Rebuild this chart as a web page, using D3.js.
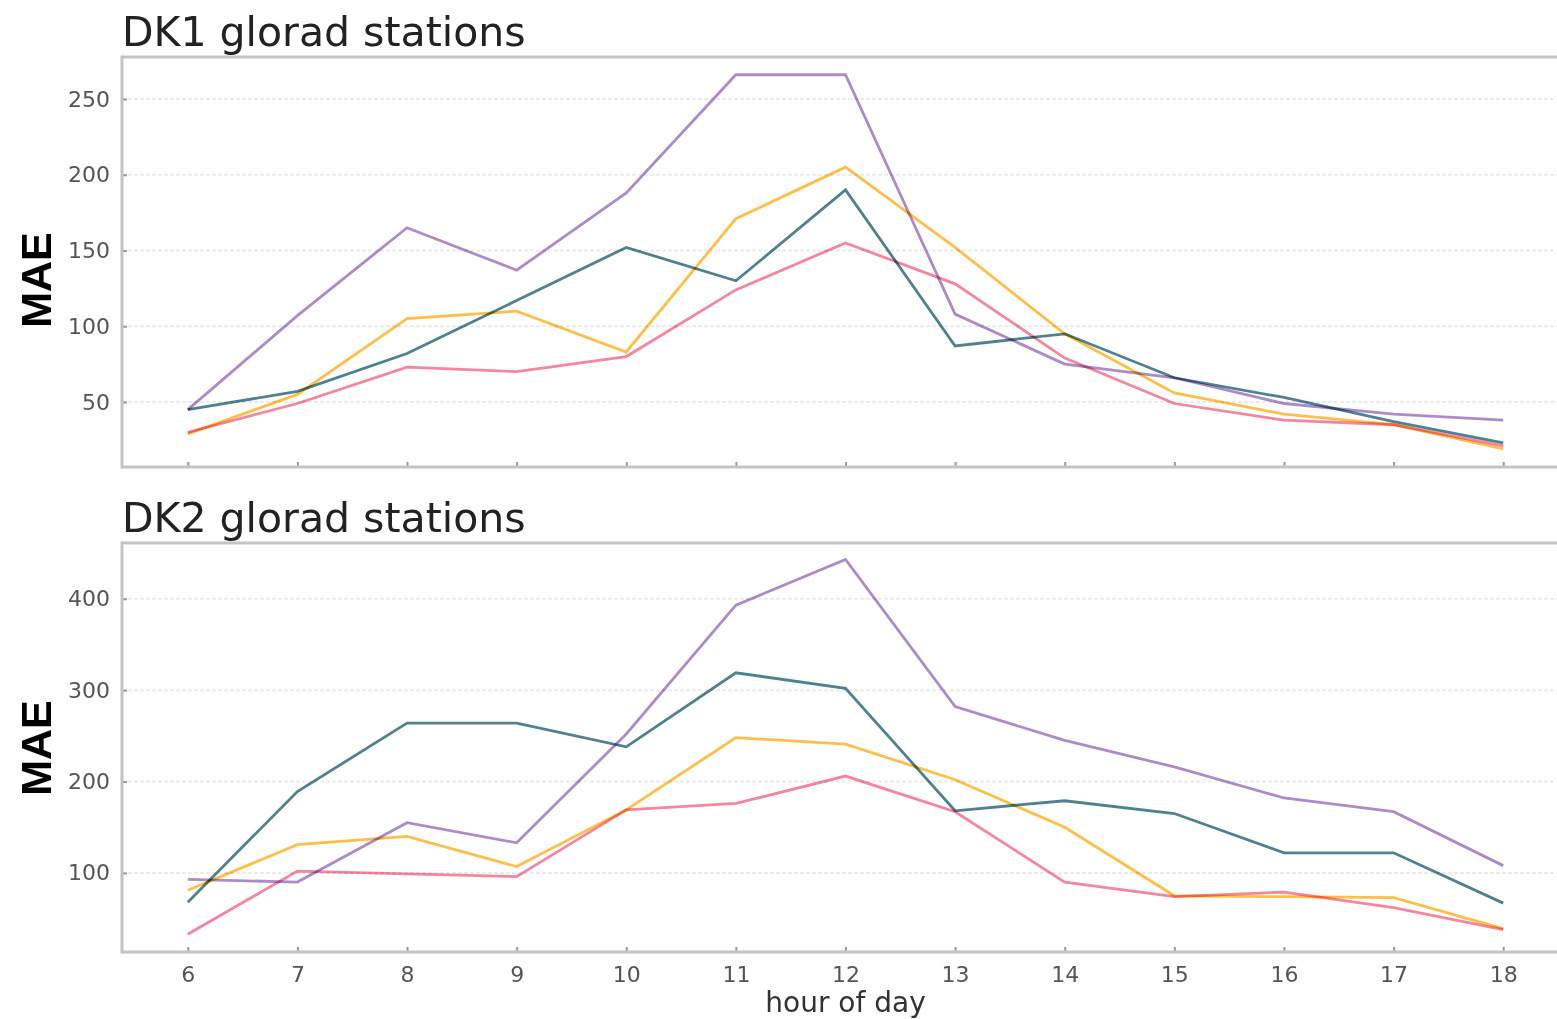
<!DOCTYPE html>
<html>
<head>
<meta charset="utf-8">
<script src="https://d3js.org/d3.v7.min.js"></script>
<style>
  html, body { margin: 0; padding: 0; background: #fff; }
  svg { display: block; }
</style>
</head>
<body>
<svg id="chart" width="1557" height="1019"></svg>
<script>
// ---- data ----
const hours = [6, 7, 8, 9, 10, 11, 12, 13, 14, 15, 16, 17, 18];
const seriesNames = ["teal", "purple", "yellow", "pink"];
const seriesColors = ["#4f8191", "#ad8bc9", "#ffbf4a", "#f5869f"];

const dk1Teal   = [45, 57, 82, 117, 152, 130, 190, 87, 95, 66, 53, 37, 23];
const dk1Purple = [45, 107, 165, 137, 188, 266, 266, 108, 75, 66, 49, 42, 38];
const dk1Yellow = [29, 55, 105, 110, 83, 171, 205, 152, 95, 56, 42, 35, 19];
const dk1Pink   = [30, 49, 73, 70, 80, 124, 155, 128, 79, 49, 38, 35, 21];

const dk2Teal   = [68, 189, 264, 264, 238, 319, 302, 168, 179, 165, 122, 122, 67];
const dk2Purple = [93, 90, 155, 133, 252, 393, 443, 282, 245, 216, 182, 167, 108];
const dk2Yellow = [81, 131, 140, 107, 169, 248, 241, 202, 150, 75, 74, 73, 39];
const dk2Pink   = [33, 102, 99, 96, 169, 176, 206, 167, 90, 74, 79, 62, 38];

const dk1Ticks = [50, 100, 150, 200, 250];
const dk2Ticks = [100, 200, 300, 400];
const xTicks = hours;

const panels = [
  { title: "DK1 glorad stations", series: [dk1Teal, dk1Purple, dk1Yellow, dk1Pink],
    yDomain: [7.1, 277.7], yTicks: dk1Ticks, top: 57, bottom: 467, showX: false, labelY: 280 },
  { title: "DK2 glorad stations", series: [dk2Teal, dk2Purple, dk2Yellow, dk2Pink],
    yDomain: [13.5, 461], yTicks: dk2Ticks, top: 543, bottom: 952, showX: true, labelY: 748 }
];

// ---- layout ----
const svg = d3.select("#chart");
const left = 122, right = 1569;
const x = d3.scaleLinear().domain([5.4, 18.6]).range([left, right]);

const tickFont = "'DejaVu Sans', sans-serif";

panels.forEach(p => {
  const y = d3.scaleLinear().domain(p.yDomain).range([p.bottom, p.top]);
  const g = svg.append("g");

  // grid
  g.selectAll("line.grid").data(p.yTicks).enter().append("line")
    .attr("x1", left).attr("x2", 1557)
    .attr("y1", d => y(d)).attr("y2", d => y(d))
    .attr("stroke", "#ececec").attr("stroke-width", 2)
    .attr("stroke-dasharray", "4,2");

  // lines
  const line = d3.line().x((d, i) => x(hours[i])).y(d => y(d));
  p.series.forEach((s, si) => {
    g.append("path").datum(s)
      .attr("d", line)
      .attr("fill", "none")
      .attr("stroke", seriesColors[si])
      .attr("stroke-width", 2.8)
      .attr("stroke-linejoin", "miter")
      .style("mix-blend-mode", "multiply");
  });

  // y axis
  const yAxis = d3.axisLeft(y).tickValues(p.yTicks).tickSize(-5).tickPadding(12)
    .tickFormat(d3.format("d"));
  const ya = g.append("g").attr("transform", `translate(${left},0)`).call(yAxis);
  ya.select(".domain").remove();
  ya.selectAll(".tick line").attr("stroke", "#999").attr("stroke-width", 2);
  ya.selectAll(".tick text").attr("fill", "#555").style("font-family", tickFont).style("font-size", "22px");

  // x axis
  const xAxis = d3.axisBottom(x).tickValues(xTicks).tickSize(-5).tickPadding(14)
    .tickFormat(d3.format("d"));
  const xa = g.append("g").attr("transform", `translate(0,${p.bottom})`).call(xAxis);
  xa.select(".domain").remove();
  xa.selectAll(".tick line").attr("stroke", "#999").attr("stroke-width", 2);
  xa.selectAll(".tick text").attr("fill", "#555").style("font-family", tickFont).style("font-size", "22px");
  if (!p.showX) xa.selectAll(".tick text").remove();

  // spines
  g.append("line").attr("x1", left).attr("x2", 1557).attr("y1", p.top).attr("y2", p.top)
    .attr("stroke", "#c4c4c4").attr("stroke-width", 3);
  g.append("line").attr("x1", left).attr("x2", 1557).attr("y1", p.bottom).attr("y2", p.bottom)
    .attr("stroke", "#c4c4c4").attr("stroke-width", 3);
  g.append("line").attr("x1", left).attr("x2", left).attr("y1", p.top - 1.5).attr("y2", p.bottom + 1.5)
    .attr("stroke", "#c4c4c4").attr("stroke-width", 3);

  // title
  g.append("text").attr("x", left).attr("y", p.top - 11)
    .attr("fill", "#222").style("font-family", tickFont).style("font-size", "41px")
    .text(p.title);

  // y label
  g.append("text")
    .attr("transform", `translate(51,${p.labelY}) rotate(-90)`)
    .attr("text-anchor", "middle")
    .attr("fill", "#000")
    .style("font-family", "'Liberation Sans', Arial, sans-serif")
    .style("font-weight", "bold").style("font-size", "43px")
    .text("MAE");
});

svg.append("text").attr("x", x(12)).attr("y", 1012)
  .attr("text-anchor", "middle").attr("fill", "#333")
  .style("font-family", tickFont).style("font-size", "28px")
  .text("hour of day");
</script>
</body>
</html>
